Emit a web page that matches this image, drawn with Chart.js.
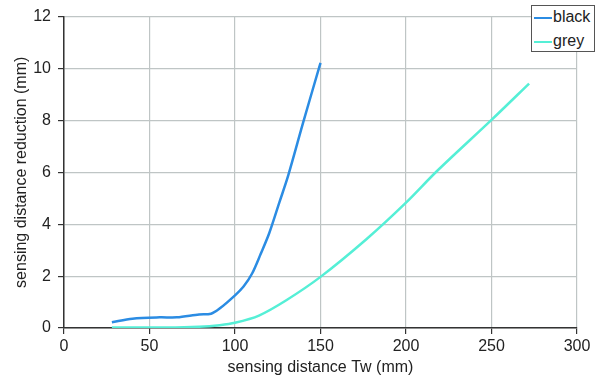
<!DOCTYPE html>
<html lang="en">
<head>
    <meta charset="UTF-8">
    <title>Sensing distance reduction</title>
    <script src="https://cdn.jsdelivr.net/npm/chart.js"></script>
    <style>
        body {
            margin: 0;
            background: #fff;
            font-family: "Liberation Sans", Arial, sans-serif;
        }
        .wrap {
            position: relative;
            width: 600px;
            height: 388px;
        }
        .legend {
            position: absolute;
            left: 531px;
            top: 5px;
            width: 62px;
            height: 45px;
            border: 1.5px solid #555;
            background: #fff;
            font-size: 16px;
            color: #222;
        }
        .legend div {
            position: absolute;
            left: 2px;
            height: 18px;
            line-height: 18px;
        }
        .legend span {
            display: inline-block;
            width: 18px;
            height: 2.5px;
            vertical-align: middle;
            margin-right: 1px;
        }
    </style>
</head>
<body>
<div class="wrap">
    <canvas id="chart" width="600" height="388"></canvas>
    <div class="legend">
        <div style="top:2px"><span style="background:#2b8ce3"></span>black</div>
        <div style="top:26px"><span style="background:#55efd6"></span>grey</div>
    </div>
</div>
<script>
    // values (x in mm, y in mm)
    const blackX = [28, 40, 56, 66, 79, 86, 91, 100, 105, 110, 115, 120, 126, 131, 140, 150];
    const blackY = [0.22, 0.36, 0.41, 0.41, 0.52, 0.55, 0.75, 1.26, 1.6, 2.1, 2.85, 3.65, 4.85, 5.85, 7.95, 10.22];
    const greyX = [28, 60, 79, 91, 100, 114, 130, 150, 177, 200, 218, 250, 272];
    const greyY = [0.02, 0.02, 0.05, 0.11, 0.2, 0.48, 1.07, 1.97, 3.43, 4.83, 6.04, 8.02, 9.42];
    const seriesNames = ['black', 'grey'];
    const seriesColors = ['#2b8ce3', '#55efd6'];

    const toPoints = (xs, ys) => xs.map((x, i) => ({ x: x, y: ys[i] }));

    const font = { family: '"Liberation Sans", Arial, sans-serif', size: 16 };
    const textColor = '#222';

    new Chart(document.getElementById('chart'), {
        type: 'scatter',
        data: {
            datasets: [
                { label: seriesNames[0], data: toPoints(blackX, blackY) },
                { label: seriesNames[1], data: toPoints(greyX, greyY) }
            ].map((d, i) => Object.assign(d, {
                showLine: true,
                borderColor: seriesColors[i],
                backgroundColor: seriesColors[i],
                borderWidth: 2.5,
                pointRadius: 0,
                tension: 0.3
            }))
        },
        options: {
            responsive: false,
            animation: false,
            layout: { padding: { top: 14, right: 23, left: 0, bottom: 0 } },
            plugins: { legend: { display: false }, tooltip: { enabled: false } },
            scales: {
                x: {
                    type: 'linear',
                    min: 0,
                    max: 300,
                    afterFit: (s) => { s.height = 60; },
                    ticks: { stepSize: 50, font: font, color: textColor, padding: 3, maxRotation: 0 },
                    grid: { color: '#bfc5c5', lineWidth: 1.2, tickLength: 6, tickColor: '#333' },
                    border: { color: '#333', width: 1.5 },
                    title: { display: true, text: 'sensing distance Tw (mm)', font: font, color: textColor, padding: { top: 4, bottom: 11 } }
                },
                y: {
                    min: 0,
                    max: 12,
                    afterFit: (s) => { s.width = 64; },
                    ticks: { stepSize: 2, font: font, color: textColor, padding: 7 },
                    grid: { color: '#bfc5c5', lineWidth: 1.2, tickLength: 6, tickColor: '#333' },
                    border: { color: '#333', width: 1.5 },
                    title: { display: true, text: 'sensing distance reduction (mm)', font: font, color: textColor, padding: { top: 12, bottom: 4 } }
                }
            }
        }
    });
</script>
</body>
</html>
